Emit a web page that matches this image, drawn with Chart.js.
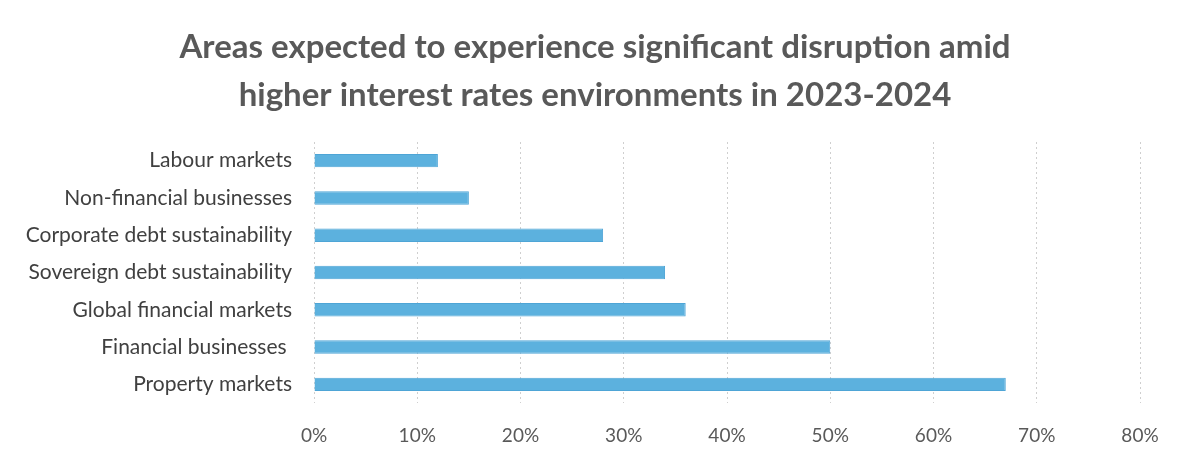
<!DOCTYPE html>
<html>
<head>
<meta charset="utf-8">
<script src="https://cdn.jsdelivr.net/npm/chart.js@4"></script>
<style>
  html, body { margin: 0; padding: 0; background: #ffffff; }
  #wrap { width: 1181px; height: 459px; position: relative; }
</style>
</head>
<body>
<div id="wrap"><canvas id="chart" width="1181" height="459"></canvas></div>
<script>
// Chart data
const titleLines = [
  "Areas expected to experience significant disruption amid",
  "higher interest rates environments in 2023-2024"
];
const categories = [
  "Labour markets",
  "Non-financial businesses",
  "Corporate debt sustainability",
  "Sovereign debt sustainability",
  "Global financial markets",
  "Financial businesses ",
  "Property markets"
];
const shares = [12, 15, 28, 34, 36, 50, 67];
const tickMax = 80;
const tickStep = 10;

// Title sits a little right of the canvas centre in the original,
// so it is drawn here rather than by the title plugin
const titleDrawer = {
  id: "titleDrawer",
  afterDraw: (chart) => {
    const c = chart.ctx;
    c.save();
    c.fillStyle = "#595959";
    c.font = "bold 33px Lato";
    c.textAlign = "center";
    c.textBaseline = "middle";
    titleLines.forEach((line, i) => {
      c.fillText(line, 595, 47 + i * 48);
    });
    c.restore();
  },
};

const ctx = document.getElementById("chart").getContext("2d");

new Chart(ctx, {
  type: "bar",
  data: {
    labels: categories,
    datasets: [
      {
        label: "Share",
        data: shares,
        backgroundColor: "#5cb1de",
        borderColor: "#4ea5d6",
        borderWidth: 1,
        categoryPercentage: 1,
        barPercentage: 0.36,
      },
    ],
  },
  options: {
    indexAxis: "y",
    responsive: false,
    animation: false,
    layout: {
      padding: { left: 0, right: 41, top: 142, bottom: 0 },
    },
    plugins: {
      legend: { display: false },
      tooltip: { enabled: false },
      title: { display: false },
    },
    scales: {
      x: {
        min: 0,
        max: tickMax,
        border: { display: false, dash: [2, 3] },
        grid: {
          color: "#cfcfcf",
          lineWidth: 1,
          drawTicks: false,
        },
        ticks: {
          stepSize: tickStep,
          padding: 21,
          color: "#595959",
          font: { family: "Lato", size: 19 },
          callback: (v) => v + "%",
        },
        afterFit: (scale) => { scale.height = 56; },
      },
      y: {
        border: { display: false },
        grid: { display: false, drawTicks: false },
        ticks: {
          padding: 22,
          color: "#404040",
          font: { family: "Lato", size: 21 },
        },
        afterFit: (scale) => { scale.width = 314; },
      },
    },
  },
  plugins: [titleDrawer],
});
</script>
</body>
</html>
